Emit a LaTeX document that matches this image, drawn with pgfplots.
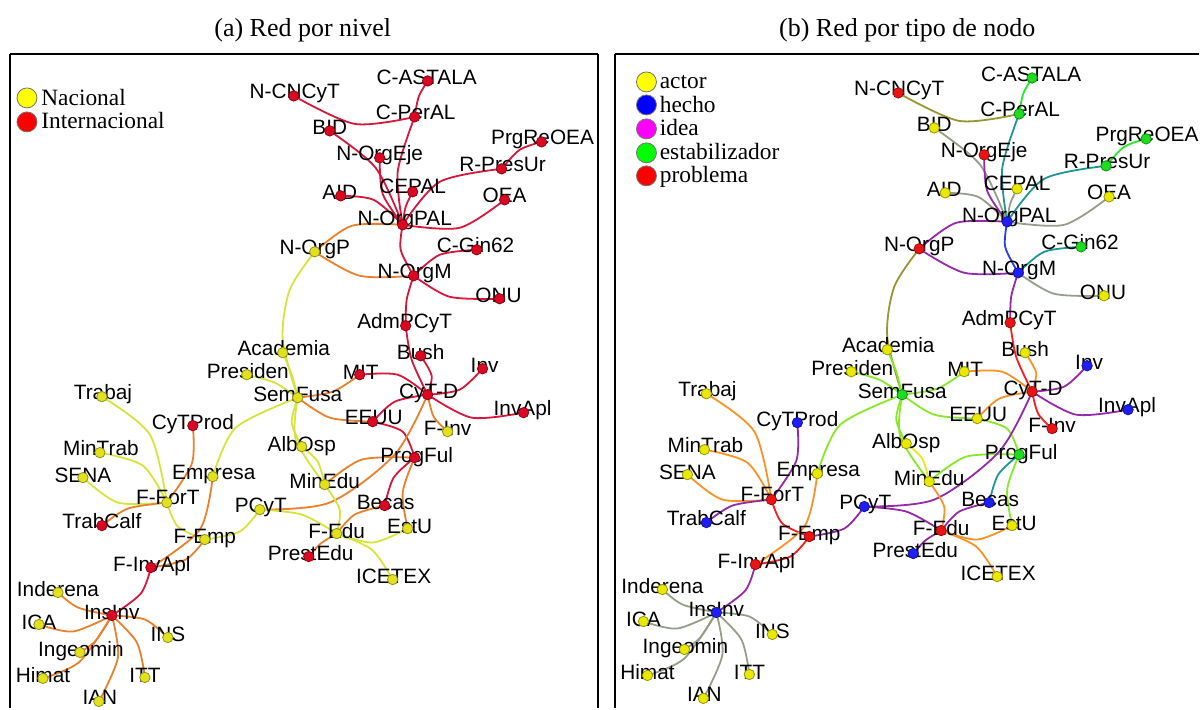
\documentclass[border=0pt]{standalone}
\usepackage{fontspec}
\setmainfont{Liberation Serif}
\newfontfamily\labfont{Liberation Sans}
\usepackage{pgfplots}
\usepackage{pgfplotstable}
\pgfplotsset{compat=1.18}

% edge colours, panel (a): national/international mixes
\definecolor{aRR}{RGB}{214,22,58}
\definecolor{aYR}{RGB}{232,128,44}
\definecolor{aYY}{RGB}{214,228,58}
% edge colours, panel (b): node-type mixes
\definecolor{bYB}{RGB}{150,158,138}
\definecolor{bYR}{RGB}{248,146,36}
\definecolor{bYG}{RGB}{136,232,40}
\definecolor{bRB}{RGB}{150,40,170}
\definecolor{bGB}{RGB}{30,150,150}
\definecolor{bRG}{RGB}{150,150,50}
\definecolor{bGG}{RGB}{40,232,40}
\definecolor{bBB}{RGB}{40,60,250}
\definecolor{bRR}{RGB}{250,28,28}
\definecolor{bYY}{RGB}{232,232,20}
% node colours
\definecolor{nY}{RGB}{225,225,30}
\definecolor{nR}{RGB}{218,8,34}
\definecolor{mY}{RGB}{232,232,0}
\definecolor{mB}{RGB}{30,30,245}
\definecolor{mG}{RGB}{30,220,30}
\definecolor{mR}{RGB}{235,20,20}
% legend colours
\definecolor{lY}{RGB}{255,255,0}
\definecolor{lB}{RGB}{0,0,255}
\definecolor{lM}{RGB}{255,0,255}
\definecolor{lG}{RGB}{0,255,0}
\definecolor{lR}{RGB}{255,0,0}

% node position, label baseline position, class in (a), class in (b)
\pgfplotstableread{
name x y lx ly ca cb
N-CNCyT 294 96 295 99 R R
C-ASTALA 428 81 427 85 R G
C-PerAL 415 117 416 120 R G
BID 330 131 330 135 R Y
N-OrgEje 380 158 380 161 R R
PrgReOEA 542 142 543 145 R G
R-PresUr 502 169 503 172 R G
AID 341 196 340 200 R Y
CEPAL 413 192 413 194 R Y
OEA 505 200 505 203 R Y
N-OrgPAL 403 225 405 226 R B
N-OrgP 315 252 315 255 Y R
C-Gin62 477 250 476 253 R G
N-OrgM 414 276 415 279 R B
ONU 500 299 499 303 R Y
AdmPCyT 406 326 405 329 R R
Academia 283 353 284 356 Y Y
Presiden 247 375 248 379 Y Y
SemFusa 298 398 298 402 Y G
Trabaj 102 397 103 400 Y Y
CyTProd 193 426 193 430 R B
MinTrab 100 453 101 456 Y Y
SENA 83 478 83 483 Y Y
Empresa 213 477 214 480 Y Y
F-ForT 167 503 168 505 Y R
TrabCalf 102 526 102 529 R B
F-Emp 205 540 205 544 Y R
F-InvApl 151 568 152 572 R R
Inderena 58 593 58 597 Y Y
InsInv 112 616 112 620 R B
ICA 39 625 39 630 Y Y
INS 168 638 168 642 Y Y
Ingeomin 80 653 81 657 Y Y
Himat 43 679 43 683 Y Y
ITT 145 678 145 683 Y Y
IAN 99 702 100 705 Y Y
PCyT 260 510 261 513 Y B
MinEdu 325 485 325 489 Y Y
AlbOsp 302 447 302 452 Y Y
F-Edu 337 534 337 539 Y R
PrestEdu 309 557 311 561 R B
ICETEX 393 580 394 584 Y Y
Becas 385 506 386 510 R B
EstU 408 529 410 534 Y Y
ProgFul 415 458 417 463 R G
EEUU 373 422 374 425 R Y
F-Inv 448 432 448 436 Y R
CyT-D 428 395 429 399 R R
MIT 360 375 361 380 R Y
Bush 421 356 421 360 R Y
Inv 483 369 485 373 R B
InvApl 524 413 523 416 R B
}\nettab

\pgfplotsset{
  netaxis/.style={scale only axis, height=327.5pt, y dir=reverse,
    xtick=\empty, ytick=\empty, axis x line*=top,
    axis line style={line width=1pt, black, -}},
  edge/.style={smooth, no markers, line width=0.9pt},
  netlabel/.style={draw=none, no markers, nodes near coords, point meta=explicit symbolic,
    every node near coord/.append style={anchor=base, inner sep=0pt, text=black,
      font=\labfont\fontsize{10.4}{12}\selectfont}},
  legtext/.style={draw=none, no markers, nodes near coords, point meta=explicit symbolic,
    every node near coord/.append style={anchor=base west, inner sep=0pt, text=black,
      font=\fontsize{11.7}{13}\selectfont}},
  legdot/.style={only marks, mark=*, mark size=5pt, mark options={draw=black!55, line width=0.4pt, fill=#1}},
}

\newcommand\EA[3]{\addplot[edge, color=#1] coordinates {#3};}
\newcommand\EB[3]{\addplot[edge, color=#2] coordinates {#3};}
\newcommand\alledges{%
\E{aRR}{bRG}{(294,96) (355,124) (415,117)}
\E{aRR}{bGG}{(428,81) (419,97) (415,117)}
\E{aRR}{bGB}{(415,117) (398,172) (403,225)}
\E{aRR}{bYB}{(330,131) (376,168) (403,225)}
\E{aRR}{bRB}{(380,158) (383,194) (403,225)}
\E{aRR}{bYB}{(341,196) (374,200) (403,225)}
\E{aRR}{bYB}{(413,192) (406,207) (403,225)}
\E{aRR}{bGB}{(502,169) (440,182) (403,225)}
\E{aRR}{bGG}{(542,142) (520,150) (502,169)}
\E{aRR}{bYB}{(505,200) (460,228) (403,225)}
\E{aYR}{bRB}{(315,252) (352,226) (403,225)}
\E{aYR}{bRB}{(315,252) (360,276) (414,276)}
\E{aRR}{bBB}{(403,225) (401,250) (414,276)}
\E{aRR}{bGB}{(477,250) (440,255) (414,276)}
\E{aRR}{bYB}{(500,299) (450,297) (414,276)}
\E{aRR}{bRB}{(414,276) (407,300) (406,326)}
\E{aRR}{bRR}{(406,326) (412,360) (428,395)}
\E{aRR}{bYR}{(421,356) (432,376) (428,395)}
\E{aRR}{bYR}{(360,375) (398,375) (428,395)}
\E{aRR}{bRB}{(483,369) (460,390) (428,395)}
\E{aRR}{bRB}{(524,413) (472,418) (428,395)}
\E{aYR}{bRR}{(428,395) (434,417) (448,432)}
\E{aRR}{bYR}{(428,395) (395,402) (373,422)}
\E{aYR}{bYG}{(298,398) (333,392) (360,375)}
\E{aYR}{bYG}{(298,398) (330,418) (373,422)}
\E{aRR}{bYG}{(373,422) (403,432) (415,458)}
\E{aRR}{bGB}{(415,458) (394,478) (385,506)}
\E{aYR}{bYG}{(415,458) (403,493) (408,529)}
\E{aYR}{bYG}{(325,485) (362,460) (415,458)}
\E{aYR}{bRB}{(260,510) (330,503) (395,455) (428,395)}
\E{aYY}{bRB}{(260,510) (302,515) (337,534)}
\E{aYY}{bRB}{(205,540) (240,532) (260,510)}
\E{aYY}{bRR}{(167,503) (178,527) (205,540)}
\E{aYR}{bRR}{(205,540) (186,560) (151,568)}
\E{aYR}{bYR}{(213,477) (200,530) (151,568)}
\E{aRR}{bRB}{(151,568) (141,594) (112,616)}
\E{aYR}{bRB}{(193,426) (192,464) (167,503)}
\E{aYY}{bYR}{(102,397) (150,435) (167,503)}
\E{aYY}{bYR}{(100,453) (143,466) (167,503)}
\E{aYY}{bYR}{(83,478) (118,503) (167,503)}
\E{aYR}{bRB}{(102,526) (128,509) (167,503)}
\E{aYY}{bYG}{(213,477) (236,428) (298,398)}
\E{aYY}{bRG}{(315,252) (290,290) (283,340) (298,398)}
\E{aYY}{bYG}{(283,353) (292,375) (298,398)}
\E{aYY}{bYG}{(247,375) (275,383) (298,398)}
\E{aYY}{bYG}{(298,398) (292,423) (302,447)}
\E{aYY}{bYG}{(298,398) (296,440) (325,485)}
\E{aYY}{bYY}{(302,447) (318,462) (325,485)}
\E{aYY}{bYR}{(325,485) (340,510) (337,534)}
\E{aYR}{bRB}{(337,534) (355,515) (385,506)}
\E{aYR}{bRB}{(337,534) (321,544) (309,557)}
\E{aYY}{bYR}{(337,534) (373,543) (408,529)}
\E{aYY}{bYR}{(337,534) (372,550) (393,580)}
\E{aYR}{bYB}{(112,616) (78,608) (58,593)}
\E{aYR}{bYB}{(112,616) (73,632) (39,625)}
\E{aYR}{bYB}{(112,616) (145,620) (168,638)}
\E{aYR}{bYB}{(112,616) (96,641) (80,653)}
\E{aYR}{bYB}{(112,616) (80,662) (43,679)}
\E{aYR}{bYB}{(112,616) (137,643) (145,678)}
\E{aYR}{bYB}{(112,616) (118,658) (99,702)}
}

\begin{document}
\begin{tikzpicture}
\path (0,0) rectangle (600pt,-354.5pt);
\node[anchor=base, font=\fontsize{13}{15}\selectfont] at (151.5pt,-18.5pt) {(a) Red por nivel};
\node[anchor=base, font=\fontsize{13}{15}\selectfont] at (454pt,-18.5pt) {(b) Red por tipo de nodo};

% (a) national / international
\begin{axis}[netaxis, width=294pt, axis y line*=box, at={(5pt,-27pt)}, anchor=north west,
  xmin=10, xmax=598, ymin=54, ymax=709]
\let\E\EA
\alledges
\addplot[netlabel] table[x=lx, y=ly, meta=name] {\nettab};
\addplot[scatter, only marks, scatter src=explicit symbolic, mark size=2.6pt,
  scatter/classes={Y={mark=*, fill=nY, draw=nY!65!black},
                   R={mark=*, fill=nR, draw=nR!65!black}}]
  table[x=x, y=y, meta=ca] {\nettab};
\addplot[legdot=lY] coordinates {(27,98)};
\addplot[legdot=lR] coordinates {(27,122)};
\addplot[legtext] coordinates {(41,106) [Nacional] (41,129) [Internacional]};
\end{axis}

% (b) node type
\begin{axis}[netaxis, width=292pt, axis y line*=left, at={(308pt,-27pt)}, anchor=north west,
  xmin=11, xmax=595, ymin=57, ymax=712]
\let\E\EB
\alledges
\addplot[netlabel] table[x=lx, y=ly, meta=name] {\nettab};
\addplot[scatter, only marks, scatter src=explicit symbolic, mark size=2.6pt,
  scatter/classes={Y={mark=*, fill=mY, draw=mY!65!black},
                   B={mark=*, fill=mB, draw=mB!65!black},
                   G={mark=*, fill=mG, draw=mG!65!black},
                   R={mark=*, fill=mR, draw=mR!65!black}}]
  table[x=x, y=y, meta=cb] {\nettab};
\addplot[legdot=lY] coordinates {(42,85)};
\addplot[legdot=lB] coordinates {(42,108)};
\addplot[legdot=lM] coordinates {(42,132)};
\addplot[legdot=lG] coordinates {(42,156)};
\addplot[legdot=lR] coordinates {(42,179)};
\addplot[legtext] coordinates {(55,92) [actor] (55,116) [hecho] (55,139) [idea] (55,163) [estabilizador] (55,186) [problema]};
\end{axis}
\end{tikzpicture}
\end{document}
